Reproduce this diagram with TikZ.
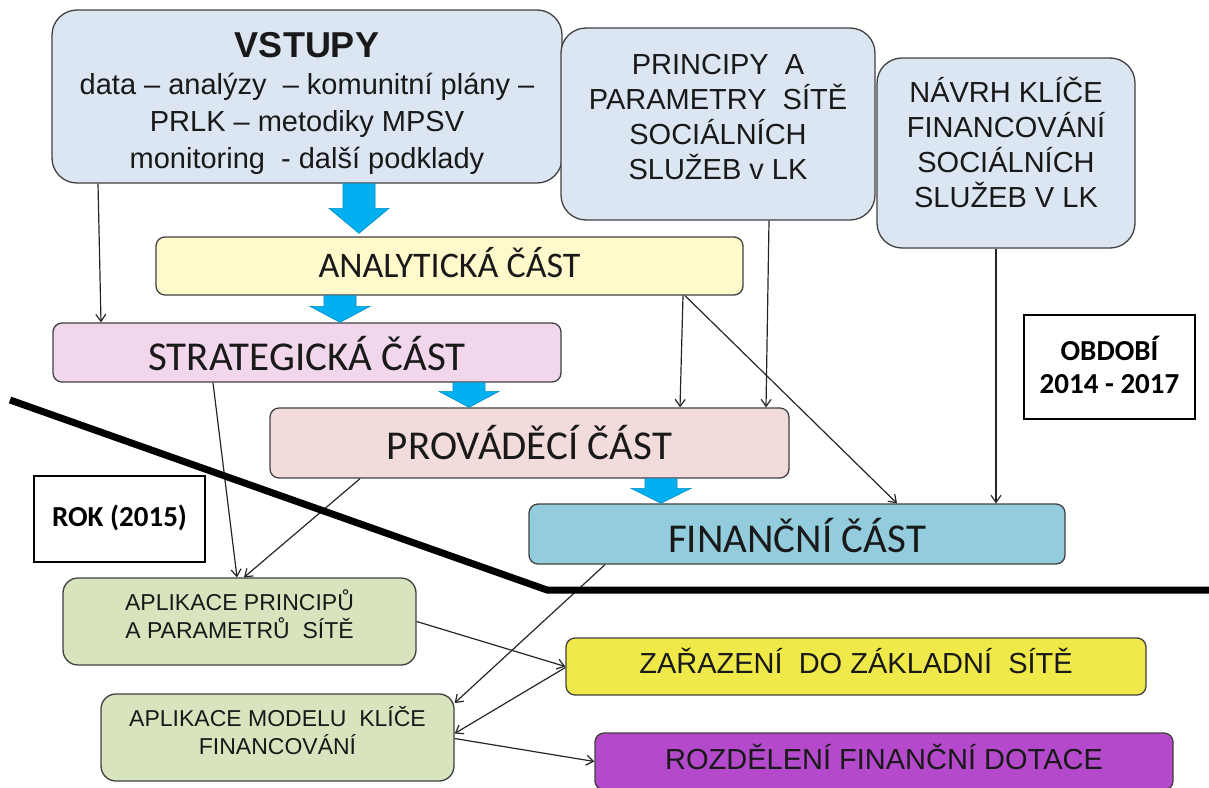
\documentclass[tikz,border=0pt]{standalone}
\usepackage{fontspec}
\setmainfont{Liberation Sans}
\newfontfamily\calibri{Carlito}
\usepackage{xcolor}
\usepackage{tikz}
\usetikzlibrary{arrows.meta, positioning}

\definecolor{inputblue}{HTML}{DCE6F2}
\definecolor{analytyellow}{HTML}{FFF9CC}
\definecolor{stratpink}{HTML}{F2D6EC}
\definecolor{provrose}{HTML}{F2DCDB}
\definecolor{financyan}{HTML}{93CDDD}
\definecolor{applgreen}{HTML}{D7E4BD}
\definecolor{netyellow}{HTML}{EFEA4A}
\definecolor{dotpurple}{HTML}{B449CC}
\definecolor{arrowblue}{HTML}{00B0F0}

\begin{document}
\begin{tikzpicture}[x=1pt, y=-1pt,
    >={Straight Barb[length=7pt,width=10pt]},
    box/.style={draw=black!75, line width=1.3pt, inner sep=0pt, align=center, text=black!90},
    bigbox/.style={box, rounded corners=25pt, fill=inputblue, font=\fontsize{29}{35}\selectfont},
    partbox/.style={box, rounded corners=9pt, font=\calibri\fontsize{41}{48}\selectfont, text depth=0pt},
    applbox/.style={box, rounded corners=15pt, fill=applgreen, font=\fontsize{23}{28}\selectfont, text height=34pt, text depth=0pt},
    resultbox/.style={box, rounded corners=9pt, font=\fontsize{29}{35}\selectfont, text depth=0pt},
    periodbox/.style={draw=black, line width=1.3pt, inner sep=0pt, align=center, font=\calibri\bfseries\fontsize{29}{33}\selectfont, text depth=0pt},
    conn/.style={->, line width=1.2pt, black!85},
    bluearrow/.style={fill=arrowblue, draw=arrowblue!80!black, line width=0.6pt}]

    % Fix the page size
    \useasboundingbox (0,0) rectangle (1209,787);

    % Input boxes
    \node[bigbox, minimum width=510pt, minimum height=173pt, font=\fontsize{29}{37}\selectfont, text height=143pt, text depth=0pt] (vstupy) at (307,96.5)
        {{\fontsize{36}{38}\selectfont\bfseries VSTUPY}\\ data – analýzy~ – komunitní plány –\\ PRLK – metodiky MPSV\\ monitoring~ - další podklady};
    \node[bigbox, minimum width=314pt, minimum height=192pt, text height=110pt, text depth=0pt] (principy) at (718,124)
        {PRINCIPY~ A\\ PARAMETRY~ SÍTĚ\\ SOCIÁLNÍCH\\ SLUŽEB v LK};
    \node[bigbox, minimum width=258pt, minimum height=190pt, text height=108pt, text depth=0pt] (navrh) at (1006,153)
        {NÁVRH KLÍČE\\ FINANCOVÁNÍ\\ SOCIÁLNÍCH\\ SLUŽEB V LK};

    % Parts of the plan
    \node[partbox, fill=analytyellow, minimum width=587pt, minimum height=58pt, font=\calibri\fontsize{36}{42}\selectfont, text height=23pt] (analyt) at (449.5,266) {ANALYTICKÁ ČÁST};
    \node[partbox, fill=stratpink, minimum width=508pt, minimum height=59pt, text height=36pt] (strat) at (307,352.5) {STRATEGICKÁ ČÁST};
    \node[partbox, fill=provrose, minimum width=519pt, minimum height=70pt, text height=32pt] (prov) at (529.5,443) {PROVÁDĚCÍ ČÁST};
    \node[partbox, fill=financyan, minimum width=536pt, minimum height=60pt, text height=36pt] (finan) at (797,534) {FINANČNÍ ČÁST};

    % Period labels
    \node[periodbox, minimum width=171pt, minimum height=104pt, text height=52pt] (obdobi) at (1109.5,367) {OBDOBÍ\\ 2014 - 2017};
    \node[periodbox, minimum width=171pt, minimum height=86pt, text height=15.7pt] (rok) at (119.5,519) {ROK (2015)};

    % Yearly application
    \node[applbox, minimum width=353pt, minimum height=87pt] (aplp) at (239.5,621.5) {APLIKACE PRINCIPŮ\\ A PARAMETRŮ~ SÍTĚ};
    \node[applbox, minimum width=353pt, minimum height=87pt] (aplm) at (277.5,737.5) {APLIKACE MODELU~ KLÍČE\\ FINANCOVÁNÍ};
    \node[resultbox, fill=netyellow, minimum width=580pt, minimum height=57pt, text height=14pt] (zar) at (856,666.5) {ZAŘAZENÍ~ DO ZÁKLADNÍ~ SÍTĚ};
    \node[resultbox, fill=dotpurple, minimum width=578pt, minimum height=57pt, text height=16pt] (rozd) at (884,761.5) {ROZDĚLENÍ FINANČNÍ DOTACE};

    % Blue block arrows
    \def\blueArrow#1#2#3{%
        \filldraw[bluearrow] ([xshift=-16pt]#1) -- ([xshift=-16pt,yshift=#3]#2) -- ([xshift=-30pt,yshift=#3]#2) -- (#2)
            -- ([xshift=30pt,yshift=#3]#2) -- ([xshift=16pt,yshift=#3]#2) -- ([xshift=16pt]#1) -- cycle;}
    \coordinate (flow1) at ([xshift=52pt]vstupy.south);
    \coordinate (flow1tip) at ([yshift=3pt]flow1 |- analyt.north);
    \coordinate (flow2) at ([xshift=33pt]strat.north |- analyt.south);
    \coordinate (flow2tip) at ([xshift=33pt]strat.north);
    \coordinate (flow3) at ([xshift=162pt]strat.south);
    \coordinate (flow3tip) at (flow3 |- prov.north);
    \coordinate (flow4) at ([xshift=131.5pt]prov.south);
    \coordinate (flow4tip) at (flow4 |- finan.north);
    \blueArrow{flow1}{flow1tip}{25pt}
    \blueArrow{flow2}{flow2tip}{16pt}
    \blueArrow{flow3}{flow3tip}{16pt}
    \blueArrow{flow4}{flow4tip}{15pt}

    % Thin connectors
    \draw[conn] ([xshift=-209pt]vstupy.south) -- ([xshift=-206pt]strat.north);
    \draw[conn] ([xshift=51pt]principy.south) -- ([xshift=236.5pt]prov.north);
    \draw[conn] ([xshift=233.5pt]analyt.south) -- ([xshift=150.5pt]prov.north);
    \draw[conn] ([xshift=235.5pt]analyt.south) -- ([xshift=100pt]finan.north);
    \draw[conn] ([xshift=-10pt]navrh.south) -- ([xshift=199pt]finan.north);
    \draw[conn] ([xshift=-94pt]strat.south) -- ([xshift=-2.5pt]aplp.north);
    \draw[conn] ([xshift=-169.5pt]prov.south) -- ([xshift=4.5pt]aplp.north);
    \draw[conn] (aplp.east) -- (zar.west);
    \draw[conn] ([xshift=-192pt]finan.south) -- ([yshift=34.5pt]aplm.east);
    \draw[conn] ([yshift=-1pt]zar.west) -- ([yshift=4pt]aplm.east);
    \draw[conn] ([yshift=-1pt]aplm.east) -- (rozd.west);

    % Dividing line between period and year
    \draw[line width=7pt] (10,400) -- (547,590) -- (1209,590);

\end{tikzpicture}
\end{document}
